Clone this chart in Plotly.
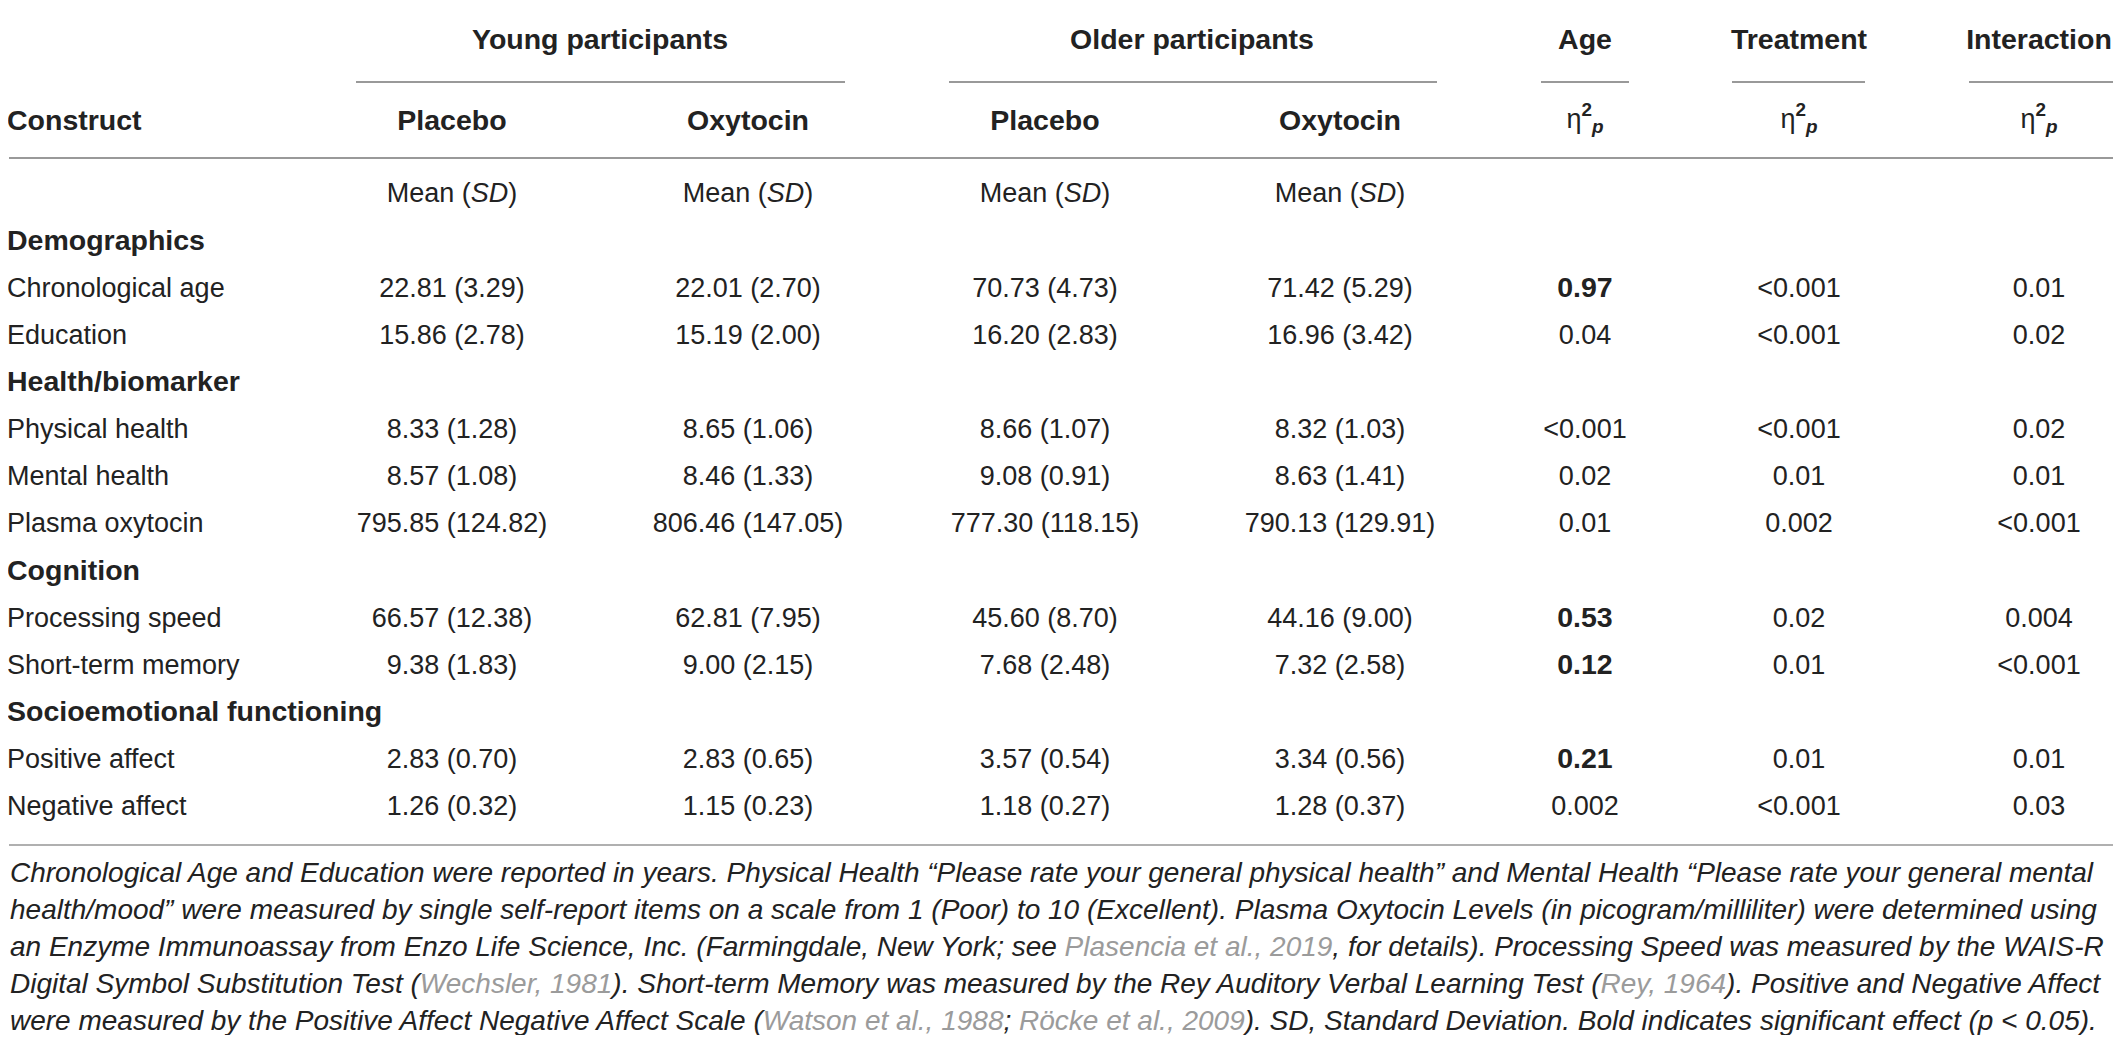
import plotly.graph_objects as go

# table content
sections = ["Demographics", "Health/biomarker", "Cognition", "Socioemotional functioning"]
constructs = ["Chronological age", "Education", "Physical health", "Mental health",
              "Plasma oxytocin", "Processing speed", "Short-term memory",
              "Positive affect", "Negative affect"]
construct_section = [0, 0, 1, 1, 1, 2, 2, 3, 3]

young_placebo_mean = [22.81, 15.86, 8.33, 8.57, 795.85, 66.57, 9.38, 2.83, 1.26]
young_placebo_sd = [3.29, 2.78, 1.28, 1.08, 124.82, 12.38, 1.83, 0.70, 0.32]
young_oxytocin_mean = [22.01, 15.19, 8.65, 8.46, 806.46, 62.81, 9.00, 2.83, 1.15]
young_oxytocin_sd = [2.70, 2.00, 1.06, 1.33, 147.05, 7.95, 2.15, 0.65, 0.23]
older_placebo_mean = [70.73, 16.20, 8.66, 9.08, 777.30, 45.60, 7.68, 3.57, 1.18]
older_placebo_sd = [4.73, 2.83, 1.07, 0.91, 118.15, 8.70, 2.48, 0.54, 0.27]
older_oxytocin_mean = [71.42, 16.96, 8.32, 8.63, 790.13, 44.16, 7.32, 3.34, 1.28]
older_oxytocin_sd = [5.29, 3.42, 1.03, 1.41, 129.91, 9.00, 2.58, 0.56, 0.37]

eta_age = ["0.97", "0.04", "<0.001", "0.02", "0.01", "0.53", "0.12", "0.21", "0.002"]
eta_treatment = ["<0.001", "<0.001", "<0.001", "0.01", "0.002", "0.02", "0.01", "0.01", "<0.001"]
eta_interaction = ["0.01", "0.02", "0.02", "0.01", "<0.001", "0.004", "<0.001", "0.01", "0.03"]
age_significant = [True, False, False, False, False, True, True, True, False]

group_labels = ["Young participants", "Older participants", "Age", "Treatment", "Interaction"]
condition_labels = ["Placebo", "Oxytocin", "Placebo", "Oxytocin"]

footnote_lines = [
    "Chronological Age and Education were reported in years. Physical Health “Please rate your general physical health” and Mental Health “Please rate your general mental",
    "health/mood” were measured by single self-report items on a scale from 1 (Poor) to 10 (Excellent). Plasma Oxytocin Levels (in picogram/milliliter) were determined using",
    "an Enzyme Immunoassay from Enzo Life Science, Inc. (Farmingdale, New York; see [Plasencia et al., 2019], for details). Processing Speed was measured by the WAIS-R",
    "Digital Symbol Substitution Test ([Wechsler, 1981]). Short-term Memory was measured by the Rey Auditory Verbal Learning Test ([Rey, 1964]). Positive and Negative Affect",
    "were measured by the Positive Affect Negative Affect Scale ([Watson et al., 1988]; [Röcke et al., 2009]). SD, Standard Deviation. Bold indicates significant effect (p &lt; 0.05).",
]

# geometry in page pixels (the page body has an 8px margin)
PAGE_W, PAGE_H = 2121, 1043
OFF = 8
FONT = "Liberation Sans, Arial"
TXT = "#222222"
RULE = "#999999"
LINK = "#9b9b9b"
left_x = 7
col_x = [452, 748, 1045, 1340, 1585, 1799, 2039]
row0_y, row_dy = 243, 47.1
size_reg = 27
size_bold = 28.5


def esc(s):
    return s.replace("<", "&lt;")


def fmt(m, s):
    return "{:.2f} ({:.2f})".format(m, s)


# body rows
sec_text, sec_y = [], []
name_text, name_y = [], []
cell_text, cell_x, cell_y = [], [], []
bold_text, bold_x, bold_y = [], [], []
k = 0
last_sec = -1
for i, name in enumerate(constructs):
    if construct_section[i] != last_sec:
        last_sec = construct_section[i]
        sec_text.append(sections[last_sec])
        sec_y.append(row0_y + row_dy * k)
        k += 1
    y = row0_y + row_dy * k
    name_text.append(name)
    name_y.append(y)
    vals = [fmt(young_placebo_mean[i], young_placebo_sd[i]),
            fmt(young_oxytocin_mean[i], young_oxytocin_sd[i]),
            fmt(older_placebo_mean[i], older_placebo_sd[i]),
            fmt(older_oxytocin_mean[i], older_oxytocin_sd[i]),
            esc(eta_age[i]), esc(eta_treatment[i]), esc(eta_interaction[i])]
    for j, v in enumerate(vals):
        if j == 4 and age_significant[i]:
            bold_text.append("<b>" + v + "</b>")
            bold_x.append(col_x[j])
            bold_y.append(y)
        else:
            cell_text.append(v)
            cell_x.append(col_x[j])
            cell_y.append(y)
    k += 1


def text_trace(x, y, t, pos, sz):
    return go.Scatter(x=x, y=y, text=t, mode="text", textposition=pos,
                      textfont=dict(family=FONT, size=sz, color=TXT),
                      hoverinfo="skip", showlegend=False)


fig = go.Figure()
fig.add_trace(text_trace([left_x] * len(name_text), name_y, name_text, "middle right", size_reg))
fig.add_trace(text_trace([left_x] * len(sec_text), sec_y, ["<b>" + s + "</b>" for s in sec_text],
                         "middle right", size_bold))
fig.add_trace(text_trace(cell_x, cell_y, cell_text, "middle center", size_reg))
fig.add_trace(text_trace(bold_x, bold_y, bold_text, "middle center", size_bold))

# header
group_x = [600, 1192, col_x[4], col_x[5], col_x[6]]
fig.add_trace(text_trace(group_x, [42] * 5, ["<b>" + g + "</b>" for g in group_labels],
                         "middle center", size_bold))
fig.add_trace(text_trace([left_x], [123], ["<b>Construct</b>"], "middle right", size_bold))
fig.add_trace(text_trace(col_x[:4], [123] * 4, ["<b>" + c + "</b>" for c in condition_labels],
                         "middle center", size_bold))
eta = "η<sup><b>2</b></sup><sub><b><i>p</i></b></sub>"
fig.add_trace(text_trace(col_x[4:], [121] * 3, [eta] * 3, "middle center", size_reg))
fig.add_trace(text_trace(col_x[:4], [195] * 4, ["Mean (<i>SD</i>)"] * 4, "middle center", size_reg))

# rules
shapes = []
for y, c in [(6, RULE), (158, RULE), (845, "#b0b0b0")]:
    shapes.append(dict(type="line", x0=9, x1=2115, y0=y, y1=y, xref="x", yref="y",
                       line=dict(color=c, width=2)))
for x0, x1 in [(356, 845), (949, 1437), (1541, 1629), (1732, 1865), (1969, 2116)]:
    shapes.append(dict(type="line", x0=x0, x1=x1, y0=82, y1=82, xref="x", yref="y",
                       line=dict(color=RULE, width=2)))

# footnote
annotations = []
for n, line in enumerate(footnote_lines):
    t = line.replace("[", "<span style='color:%s'>" % LINK).replace("]", "</span>")
    annotations.append(dict(x=left_x + 1, y=872 + 37 * n, xref="x", yref="y",
                            text="<i>" + t + "</i>", showarrow=False,
                            xanchor="left", yanchor="middle",
                            font=dict(family=FONT, size=28, color=TXT)))

fig.update_layout(
    width=PAGE_W - 2 * OFF, height=PAGE_H - 2 * OFF,
    margin=dict(l=0, r=0, t=0, b=0),
    paper_bgcolor="white", plot_bgcolor="white",
    xaxis=dict(range=[OFF, PAGE_W - OFF], visible=False, fixedrange=True),
    yaxis=dict(range=[PAGE_H - OFF, OFF], visible=False, fixedrange=True),
    shapes=shapes, annotations=annotations,
)

fig.write_html("out.html")
